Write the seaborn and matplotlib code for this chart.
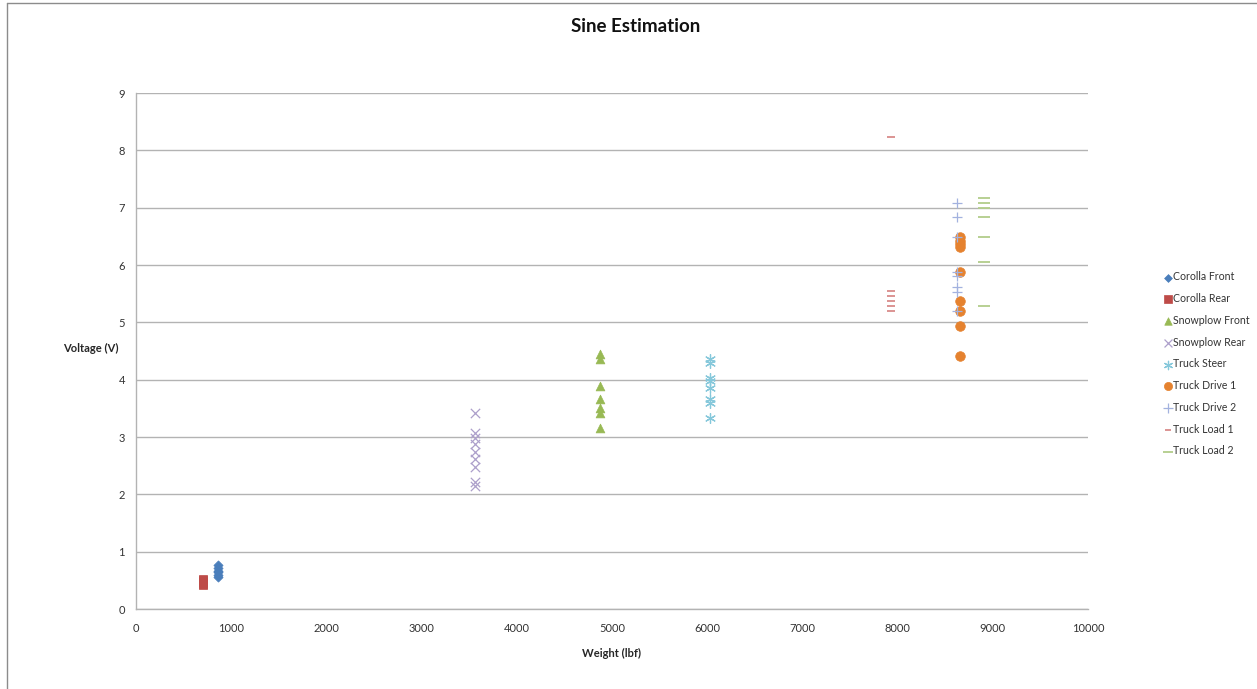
import matplotlib
matplotlib.use("Agg")
import matplotlib.pyplot as plt
from matplotlib.lines import Line2D
import seaborn as sns

# Measured sensor voltage versus axle weight for each vehicle position
series_names = ["Corolla Front", "Corolla Rear", "Snowplow Front", "Snowplow Rear",
                "Truck Steer", "Truck Drive 1", "Truck Drive 2", "Truck Load 1", "Truck Load 2"]
weights = [860, 700, 4875, 3560, 6030, 8655, 8620, 7930, 8905]

corolla_front = [0.55, 0.59, 0.64, 0.67, 0.71, 0.76]
corolla_rear = [0.41, 0.44, 0.47, 0.50, 0.53]
snowplow_front = [4.44, 4.36, 3.89, 3.66, 3.50, 3.42, 3.15]
snowplow_rear = [3.42, 3.07, 2.98, 2.87, 2.73, 2.61, 2.48, 2.21, 2.15]
truck_steer = [4.36, 4.29, 4.03, 3.98, 3.85, 3.66, 3.60, 3.33]
truck_drive_1 = [6.48, 6.41, 6.36, 6.31, 5.88, 5.37, 5.20, 4.94, 4.42]
truck_drive_2 = [7.08, 6.83, 6.48, 5.88, 5.80, 5.62, 5.53, 5.20]
truck_load_1 = [8.23, 5.55, 5.46, 5.37, 5.29, 5.20]
truck_load_2 = [7.16, 7.08, 6.99, 6.83, 6.48, 6.06, 5.29]

voltages = [corolla_front, corolla_rear, snowplow_front, snowplow_rear,
            truck_steer, truck_drive_1, truck_drive_2, truck_load_1, truck_load_2]

styles = {
    "Corolla Front": dict(marker="D", color="#4A7EBB", s=22, filled=True),
    "Corolla Rear": dict(marker="s", color="#BE4B48", s=38, filled=True),
    "Snowplow Front": dict(marker="^", color="#98B954", s=40, filled=True),
    "Snowplow Rear": dict(marker="x", color="#AD9FCB", s=45, filled=False),
    "Truck Steer": dict(marker=(6, 2, 0), color="#86C8DB", s=50, filled=False),
    "Truck Drive 1": dict(marker="o", color="#E5822F", s=48, filled=True),
    "Truck Drive 2": dict(marker="+", color="#A3B2DF", s=60, filled=False),
    "Truck Load 1": dict(marker="_", color="#D98B8A", s=30, filled=False),
    "Truck Load 2": dict(marker="_", color="#B2CD8A", s=70, filled=False),
}

sns.set_theme(style="white")
plt.rcParams["font.family"] = ["Lato", "DejaVu Sans"]

fig = plt.figure(figsize=(12.57, 6.89), dpi=100)
ax = fig.add_axes([136 / 1257, 1 - 609 / 689, (1088 - 136) / 1257, (609 - 93) / 689])

for name, w, vals in zip(series_names, weights, voltages):
    st = styles[name]
    kw = dict(x=[w] * len(vals), y=vals, marker=st["marker"], s=st["s"], ax=ax,
              label=name, zorder=3)
    if st["filled"]:
        sns.scatterplot(color=st["color"], edgecolor=st["color"], linewidth=0.5, **kw)
    else:
        sns.scatterplot(color=st["color"], linewidth=1.3 if st["marker"] == "_" else 0.9, **kw)

ax.set_xlim(0, 10000)
ax.set_ylim(0, 9)
ax.set_xticks(range(0, 10001, 1000))
ax.set_yticks(range(0, 10))
ax.yaxis.grid(True, color="#B3B3B3", linewidth=1.0)
ax.xaxis.grid(False)
for side in ["top", "right"]:
    ax.spines[side].set_visible(False)
for side in ["left", "bottom"]:
    ax.spines[side].set_color("#B3B3B3")
    ax.spines[side].set_linewidth(1.0)
ax.tick_params(axis="both", direction="out", length=4, width=0.8, color="#B3B3B3",
               labelsize=8, labelcolor="#333333", pad=6)
ax.tick_params(axis="y", pad=4)

ax.set_xlabel("Weight (lbf)", fontsize=8, fontweight="bold", labelpad=10)
ax.set_ylabel("Voltage (V)", fontsize=8, fontweight="bold", rotation=0, labelpad=16,
              va="center", ha="right")
ax.yaxis.set_label_coords(-0.018, 0.505)

fig.text(636 / 1257, 1 - 26 / 689, "Sine Estimation", fontsize=13.5, fontweight="bold",
         ha="center", va="center", color="#111111")

leg = ax.legend(loc="center left", bbox_to_anchor=((1158 - 136) / 952, 0.475), frameon=False,
                fontsize=7.6, handletextpad=0.05, labelspacing=1.02, borderaxespad=0,
                handlelength=1.0, markerscale=0.85)
for t in leg.get_texts():
    t.set_color("#333333")

# Chart area frame edges
fig.add_artist(Line2D([7 / 1257, 7 / 1257], [0, 1 - 3 / 689], transform=fig.transFigure,
                      color="#8C8C8C", linewidth=1.0))
fig.add_artist(Line2D([7 / 1257, 1], [1 - 3 / 689, 1 - 3 / 689], transform=fig.transFigure,
                      color="#8C8C8C", linewidth=1.0))

fig.savefig("out.png", dpi=100, facecolor="white")
